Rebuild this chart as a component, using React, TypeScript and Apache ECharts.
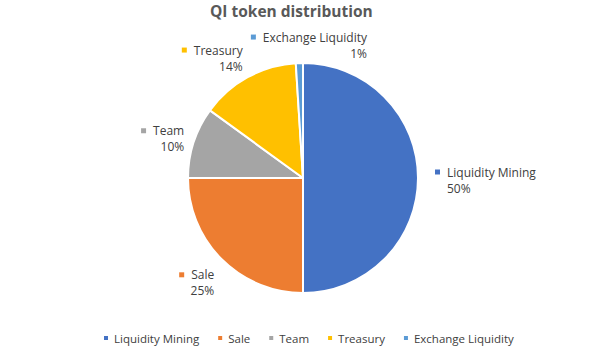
import React, { useEffect, useRef } from "react";
import * as echarts from "echarts";

const categories = ["Liquidity Mining", "Sale", "Team", "Treasury", "Exchange Liquidity"];
const values = [50, 25, 10, 14, 1];
const colors = ["#4472C4", "#ED7D31", "#A5A5A5", "#FFC000", "#5B9BD5"];

const FONT = "'Open Sans', 'Noto Sans', sans-serif";

export default function App() {
  const ref = useRef<HTMLDivElement>(null);
  useEffect(() => {
    document.body.style.margin = "0";
    if (!ref.current) return;
    const chart = echarts.init(ref.current, undefined, { renderer: "svg" });
    const labelDx = [0, 6, 2, 22, 73];
    const labelDy = [2, 15, 0, -23, -6];
    const rich: Record<string, any> = {
      g: { width: 7, height: 5 },
      s: { width: 12, height: 5 },
      n: { fontSize: 12, color: "#404040", fontFamily: FONT, lineHeight: 16 },
      p: { fontSize: 12, color: "#404040", fontFamily: FONT, lineHeight: 16 },
    };
    colors.forEach((c, i) => {
      rich["m" + i] = { backgroundColor: c, width: 5, height: 5 };
    });
    chart.setOption({
      animation: false,
      color: colors,
      title: {
        text: "QI token distribution",
        left: 205,
        top: -2,
        textStyle: { fontSize: 15.5, fontWeight: "bold", color: "#595959", fontFamily: FONT },
      },
      legend: {
        top: 327,
        left: 97,
        icon: "rect",
        itemWidth: 6,
        itemHeight: 6,
        itemGap: 17,
        textStyle: { fontSize: 11.5, color: "#404040", fontFamily: FONT },
        data: categories,
      },
      series: [
        {
          type: "pie",
          center: [303, 178],
          radius: 115,
          startAngle: 90,
          clockwise: true,
          itemStyle: { borderColor: "#fff", borderWidth: 2 },
          label: {
            show: true,
            position: "outside",
            align: "center",
            formatter: (p: any) => `{m${p.dataIndex}|}{g|}{n|${p.name}}\n{s|}{p|${p.value}%}`,
            rich,
          },
          labelLine: { show: false, length: 12, length2: 0 },
          labelLayout: (params: any) => ({
            dx: labelDx[params.dataIndex],
            dy: labelDy[params.dataIndex],
          }),
          data: categories.map((name, i) => ({ name, value: values[i] })),
        },
      ],
    });
    return () => chart.dispose();
  }, []);
  return <div ref={ref} style={{ width: 602, height: 355 }} />;
}
